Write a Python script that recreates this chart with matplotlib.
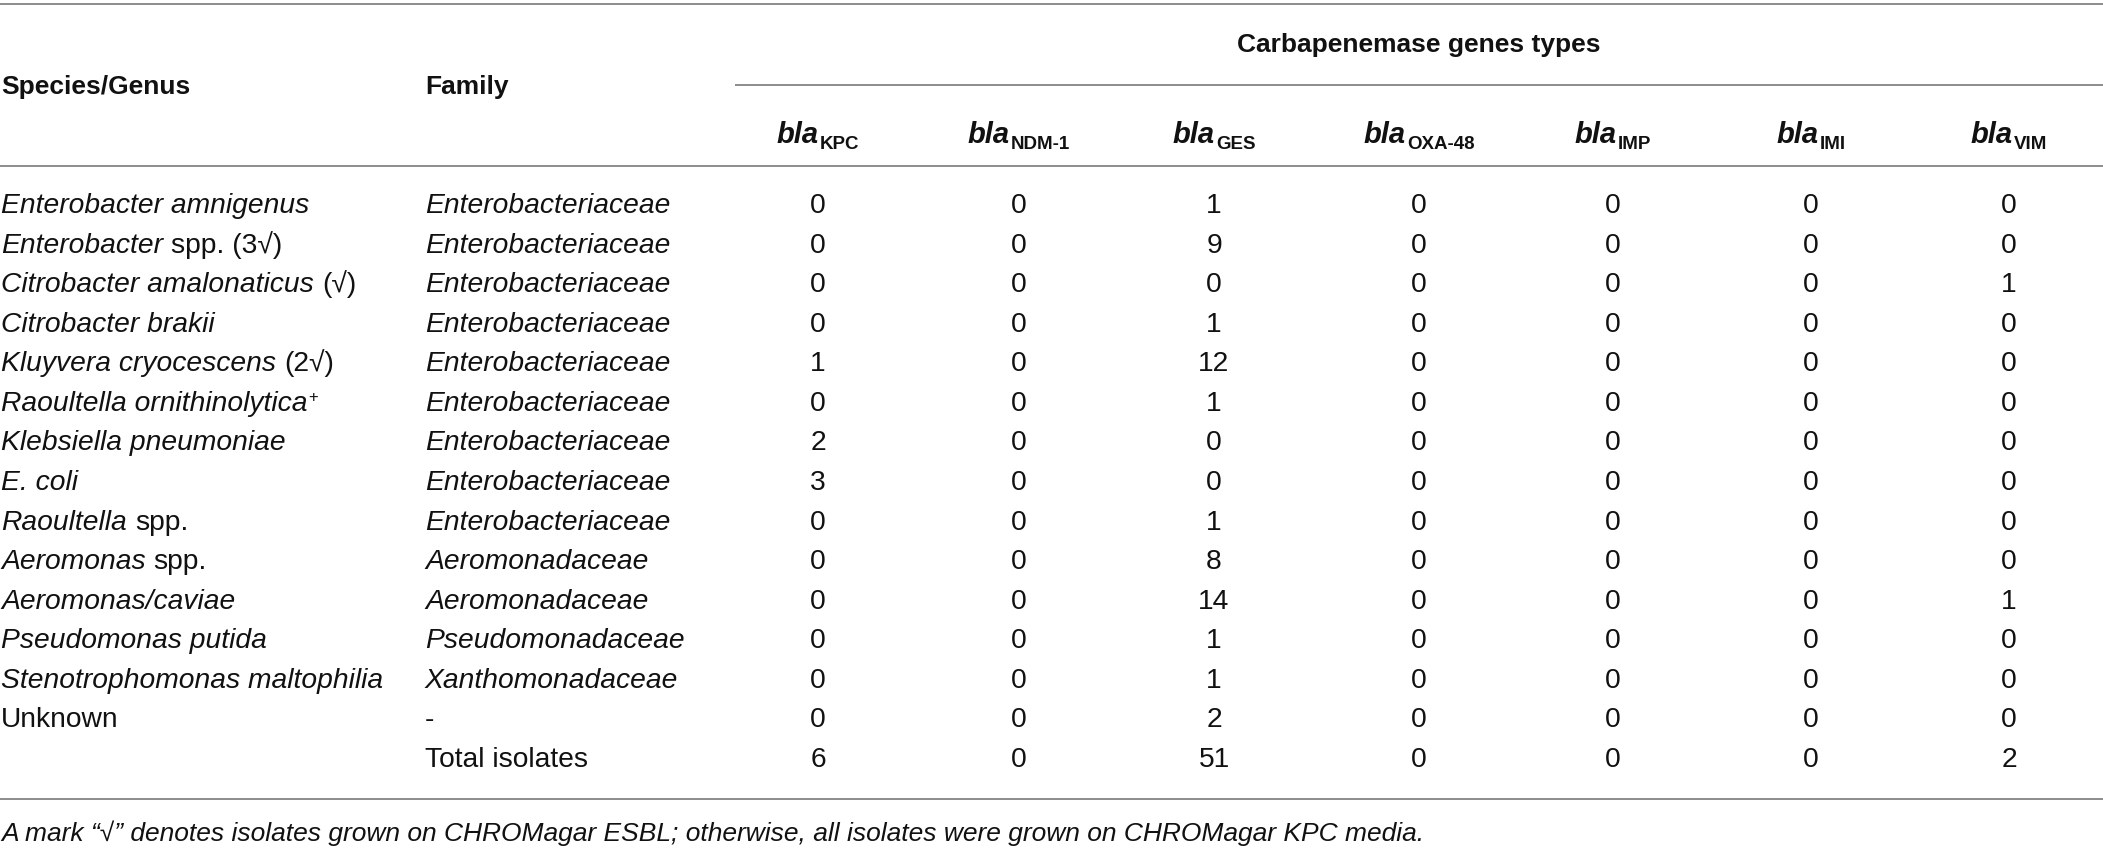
import matplotlib
matplotlib.use('Agg')
import matplotlib.pyplot as plt

plt.rcParams['font.family'] = ['Liberation Sans', 'DejaVu Sans']

# ---------------- data ----------------
species_italic = [
    'Enterobacter amnigenus', 'Enterobacter', 'Citrobacter amalonaticus',
    'Citrobacter brakii', 'Kluyvera cryocescens', 'Raoultella ornithinolytica',
    'Klebsiella pneumoniae', 'E. coli', 'Raoultella', 'Aeromonas',
    'Aeromonas/caviae', 'Pseudomonas putida', 'Stenotrophomonas maltophilia', '',
]
species_plain = ['', 'spp. (3√)', '(√)', '', '(2√)', '', '', '', 'spp.', 'spp.',
                 '', '', '', 'Unknown']
species_sup = ['', '', '', '', '', '+', '', '', '', '', '', '', '', '']
families = ['Enterobacteriaceae'] * 9 + ['Aeromonadaceae', 'Aeromonadaceae',
            'Pseudomonadaceae', 'Xanthomonadaceae', '-']
gene_names = ['KPC', 'NDM-1', 'GES', 'OXA-48', 'IMP', 'IMI', 'VIM']
bla_kpc = [0, 0, 0, 0, 1, 0, 2, 3, 0, 0, 0, 0, 0, 0]
bla_ndm1 = [0] * 14
bla_ges = [1, 9, 0, 1, 12, 1, 0, 0, 1, 8, 14, 1, 1, 2]
bla_oxa48 = [0] * 14
bla_imp = [0] * 14
bla_imi = [0] * 14
bla_vim = [0, 0, 1, 0, 0, 0, 0, 0, 0, 0, 1, 0, 0, 0]
gene_counts = [bla_kpc, bla_ndm1, bla_ges, bla_oxa48, bla_imp, bla_imi, bla_vim]
totals = [sum(c) for c in gene_counts]

header_species = 'Species/Genus'
header_family = 'Family'
header_group = 'Carbapenemase genes types'
total_label = 'Total isolates'
footnote = ('A mark \u201c√\u201d denotes isolates grown on CHROMagar ESBL; '
            'otherwise, all isolates were grown on CHROMagar KPC media.')

# ---------------- layout ----------------
W, H = 2103, 857
fig = plt.figure(figsize=(W / 100, H / 100), dpi=100)
ax = fig.add_axes([0, 0, 1, 1])
ax.set_xlim(0, W)
ax.set_ylim(H, 0)
ax.axis('off')
renderer = fig.canvas.get_renderer()

FS = 20.3
HFS = 19
TXT = '#111111'
line_col = '#8c8c8c'
lw = 1.4
col_x = [818, 1019, 1214, 1419, 1613, 1811, 2009]
x_species = 1
x_family = 425
row0 = 205
pitch = 39.57
base_off = 8
space_w = 7

# horizontal rules
for x0, x1, y in [(0, W, 4), (735, W, 84.5), (0, W, 166), (0, W, 799)]:
    ax.plot([x0, x1], [y, y], color=line_col, lw=lw, solid_capstyle='butt')

# headers
ax.text(x_species, 86 + base_off, header_species, fontsize=HFS, fontweight='bold',
        ha='left', va='baseline', color=TXT)
ax.text(x_family, 86 + base_off, header_family, fontsize=HFS, fontweight='bold',
        ha='left', va='baseline', color=TXT)
ax.text(1419, 44 + base_off, header_group, fontsize=HFS, fontweight='bold',
        ha='center', va='baseline', color=TXT)

hdr_base = 143
for g, cx in zip(gene_names, col_x):
    t1 = ax.text(0, hdr_base, 'bla', fontsize=21, fontweight='bold', style='italic',
                 ha='left', va='baseline', color=TXT)
    t2 = ax.text(0, hdr_base + 6, g, fontsize=13.5, fontweight='bold',
                 ha='left', va='baseline', color=TXT)
    w1 = t1.get_window_extent(renderer).width
    w2 = t2.get_window_extent(renderer).width
    x0 = cx - (w1 + 1 + w2) / 2
    t1.set_x(x0)
    t2.set_x(x0 + w1 + 1)

# body rows
for i in range(len(species_italic)):
    yb = row0 + i * pitch + base_off
    x = x_species
    if species_italic[i]:
        t = ax.text(x, yb, species_italic[i], fontsize=FS, style='italic',
                    ha='left', va='baseline', color=TXT)
        x += t.get_window_extent(renderer).width + 1
    if species_sup[i]:
        ax.text(x, yb - 9, species_sup[i], fontsize=12, ha='left', va='baseline',
                color=TXT)
    if species_plain[i]:
        if species_italic[i]:
            x += space_w
        ax.text(x, yb, species_plain[i], fontsize=FS, ha='left', va='baseline',
                color=TXT)
    fam = families[i]
    ax.text(x_family, yb, fam, fontsize=FS, ha='left', va='baseline', color=TXT,
            style='normal' if fam == '-' else 'italic')
    for cx, counts in zip(col_x, gene_counts):
        ax.text(cx, yb, str(counts[i]), fontsize=FS, ha='center', va='baseline',
                color=TXT)

# totals row
yb = row0 + len(species_italic) * pitch + base_off
ax.text(x_family, yb, total_label, fontsize=FS, ha='left', va='baseline', color=TXT)
for cx, t in zip(col_x, totals):
    ax.text(cx, yb, str(t), fontsize=FS, ha='center', va='baseline', color=TXT)

# footnote
ax.text(x_species, 841, footnote, fontsize=19, style='italic', ha='left',
        va='baseline', color=TXT)

fig.savefig('out.png', dpi=100)
